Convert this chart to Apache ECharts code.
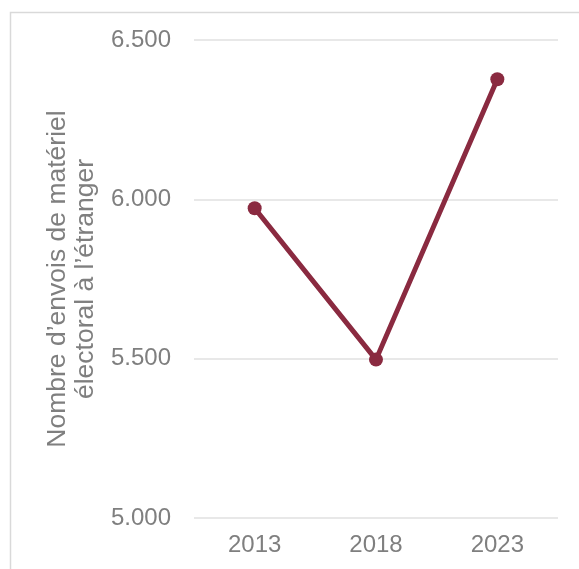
<!DOCTYPE html>
<html><head><meta charset="utf-8">
<script src="https://cdn.jsdelivr.net/npm/echarts@6/dist/echarts.min.js"></script>
<style>html,body{margin:0;padding:0;background:#fff}#c{width:579px;height:569px}</style>
</head><body><div id="c"></div>
<script>
const categories = ['2013', '2018', '2023'];
const values = [5972, 5497, 6377];
const yTicks = [5000, 5500, 6000, 6500];
const yTitle = 'Nombre d’envois de matériel\nélectoral à l’étranger';

const chart = echarts.init(document.getElementById('c'), null, {renderer: 'canvas'});
const fmt = v => String(v).replace(/\B(?=(\d{3})+(?!\d))/g, '.');
chart.setOption({
  animation: false,
  graphic: [{type: 'rect', left: 8, top: 10, shape: {width: 600, height: 600}, style: {fill: 'none', stroke: '#d9d9d9', lineWidth: 1.5}, silent: true}],
  grid: {left: 194, right: 21, top: 40, bottom: 51},
  xAxis: {
    type: 'category', data: categories, boundaryGap: true,
    axisLine: {show: false}, axisTick: {show: false},
    axisLabel: {color: '#7f7f7f', fontSize: 24, fontFamily: 'Arial, Liberation Sans', margin: 15}
  },
  yAxis: {
    type: 'value', min: yTicks[0], max: yTicks[yTicks.length - 1], interval: 500,
    axisLine: {show: false}, axisTick: {show: false},
    splitLine: {lineStyle: {color: '#e0e0e0', width: 1.5}},
    axisLabel: {color: '#7f7f7f', fontSize: 24, fontFamily: 'Arial, Liberation Sans', margin: 23, formatter: fmt},
    name: yTitle, nameLocation: 'middle', nameRotate: 90, nameGap: 93,
    nameTextStyle: {color: '#7f7f7f', fontSize: 26.5, fontFamily: 'Arial, Liberation Sans', lineHeight: 28, align: 'center'}
  },
  series: [{
    type: 'line', data: values, symbol: 'circle', symbolSize: 14,
    lineStyle: {color: '#8a2a40', width: 5}, itemStyle: {color: '#8a2a40'}
  }]
});
</script></body></html>
